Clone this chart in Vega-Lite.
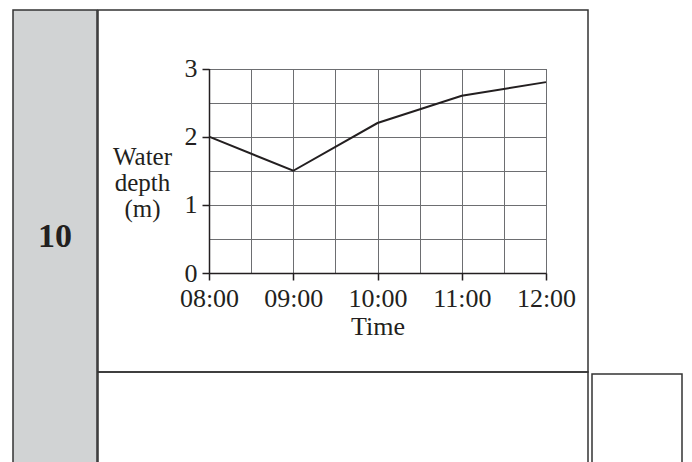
{
  "$schema": "https://vega.github.io/schema/vega-lite/v6.json",
  "background": "white",
  "padding": {"left": 12, "top": 9, "right": 0, "bottom": 0},
  "config": {
    "font": "Liberation Serif",
    "view": {"stroke": "#333333", "strokeWidth": 1.5}
  },
  "spacing": -3.5,
  "hconcat": [
    {
      "width": 84,
      "height": 453,
      "view": {"fill": "#d1d3d4", "stroke": "#333333", "strokeWidth": 1.5},
      "data": {"values": [{"question": "10"}]},
      "mark": {"type": "text", "font": "Liberation Serif", "fontWeight": "bold", "fontSize": 34, "color": "#231f20", "baseline": "middle", "align": "center"},
      "encoding": {"text": {"field": "question"}}
    },
    {
      "spacing": 2,
      "hconcat": [
        {
          "spacing": 0,
          "bounds": "flush",
          "vconcat": [
            {
              "width": 490,
              "height": 362,
              "view": {"stroke": "#333333", "strokeWidth": 1.5},
              "data": {"values": [
                {"hour": 8, "depth": 2.0},
                {"hour": 9, "depth": 1.5},
                {"hour": 10, "depth": 2.2},
                {"hour": 11, "depth": 2.6},
                {"hour": 12, "depth": 2.8}
              ]},
              "mark": {"type": "line", "color": "#231f20", "strokeWidth": 2},
              "encoding": {
                "x": {
                  "field": "hour",
                  "type": "quantitative",
                  "scale": {"domain": [8, 12], "range": [111, 448], "nice": false, "zero": false},
                  "axis": {
                    "orient": "top",
                    "values": [8, 8.5, 9, 9.5, 10, 10.5, 11, 11.5, 12],
                    "offset": -263,
                    "grid": true,
                    "gridColor": "#6d6e71",
                    "gridWidth": 1,
                    "gridOpacity": 1,
                    "domainColor": "#231f20",
                    "domainWidth": 1.5,
                    "tickColor": "#231f20",
                    "tickWidth": 1.5,
                    "tickSize": -7,
                    "tickOpacity": {"condition": {"test": "datum.value % 1 === 0", "value": 1}, "value": 0},
                    "labelExpr": "datum.value % 1 === 0 ? ((datum.value < 10 ? '0' : '') + datum.value + ':00') : ''",
                    "labelFont": "Liberation Serif",
                    "labelFontSize": 26,
                    "labelColor": "#231f20",
                    "labelBaseline": "alphabetic",
                    "labelPadding": -26,
                    "labelOverlap": false,
                    "labelFlush": false,
                    "title": "Time",
                    "titleFont": "Liberation Serif",
                    "titleFontSize": 26,
                    "titleFontWeight": "normal",
                    "titleColor": "#231f20",
                    "titleBaseline": "alphabetic",
                    "titleAlign": "center",
                    "titleX": 279.5,
                    "titleY": 61
                  }
                },
                "y": {
                  "field": "depth",
                  "type": "quantitative",
                  "scale": {"domain": [0, 3], "range": [263, 58.5], "nice": false, "zero": true},
                  "axis": {
                    "values": [0, 0.5, 1, 1.5, 2, 2.5, 3],
                    "offset": -111,
                    "grid": true,
                    "gridColor": "#6d6e71",
                    "gridWidth": 1,
                    "gridOpacity": 1,
                    "domainColor": "#231f20",
                    "domainWidth": 1.5,
                    "tickColor": "#231f20",
                    "tickWidth": 1.5,
                    "tickSize": 7,
                    "tickOpacity": {"condition": {"test": "datum.value % 1 === 0", "value": 1}, "value": 0},
                    "labelExpr": "datum.value % 1 === 0 ? '' + datum.value : ''",
                    "labelFont": "Liberation Serif",
                    "labelFontSize": 26,
                    "labelColor": "#231f20",
                    "labelBaseline": "middle",
                    "labelPadding": 5,
                    "labelOverlap": false,
                    "labelFlush": false,
                    "title": ["Water", "depth", "(m)"],
                    "titleAngle": 0,
                    "titleAlign": "center",
                    "titleBaseline": "alphabetic",
                    "titleFont": "Liberation Serif",
                    "titleFontSize": 25,
                    "titleFontWeight": "normal",
                    "titleColor": "#231f20",
                    "titleLineHeight": 26,
                    "titleX": -67,
                    "titleY": 154
                  }
                }
              }
            },
            {
              "width": 490,
              "height": 91,
              "view": {"stroke": "#333333", "strokeWidth": 1.5},
              "data": {"values": []},
              "mark": "point",
              "encoding": {}
            }
          ]
        },
        {
          "spacing": 0,
          "bounds": "flush",
          "vconcat": [
            {
              "width": 90,
              "height": 364,
              "view": {"stroke": null, "fill": "white"},
              "data": {"values": []},
              "mark": "point",
              "encoding": {}
            },
            {
              "width": 90,
              "height": 89,
              "view": {"stroke": "#333333", "strokeWidth": 1.5},
              "data": {"values": []},
              "mark": "point",
              "encoding": {}
            }
          ]
        }
      ]
    }
  ]
}
